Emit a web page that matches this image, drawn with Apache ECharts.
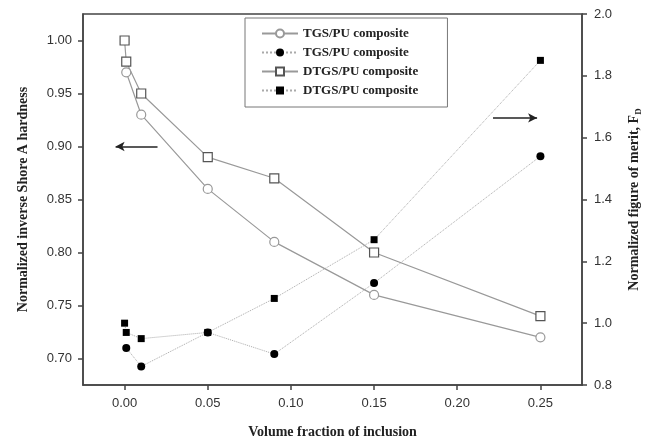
<!DOCTYPE html>
<html>
<head>
<meta charset="utf-8">
<script src="https://cdn.jsdelivr.net/npm/echarts@6/dist/echarts.min.js"></script>
<style>
  html, body { margin: 0; padding: 0; background: #fff; }
  #chart { width: 651px; height: 441px; }
</style>
</head>
<body>
<div id="chart"></div>
<script>
// volume fractions and tick values
var xTicks = [0, 0.05, 0.10, 0.15, 0.20, 0.25];
var leftTicks = [0.70, 0.75, 0.80, 0.85, 0.90, 0.95, 1.00];

var tgsX = [0.001, 0.01, 0.05, 0.09, 0.15, 0.25];
var tgsHardness = [0.97, 0.93, 0.86, 0.81, 0.76, 0.72];
var tgsMerit = [0.92, 0.86, 0.97, 0.90, 1.13, 1.54];

var dtgsX = [0, 0.001, 0.01, 0.05, 0.09, 0.15, 0.25];
var dtgsHardness = [1.00, 0.98, 0.95, 0.89, 0.87, 0.80, 0.74];
var dtgsMerit = [1.00, 0.97, 0.95, 0.97, 1.08, 1.27, 1.85];

function pairs(xs, ys) {
  return xs.map(function (x, i) { return [x, ys[i]]; });
}

var serif = 'Liberation Serif';
var sans = 'Liberation Sans';
var axisColor = '#444';

var chart = echarts.init(document.getElementById('chart'));
chart.setOption({
  backgroundColor: '#fff',
  animation: false,
  grid: {
    left: 83, right: 69, top: 14, bottom: 56,
    containLabel: false,
    outerBoundsMode: 'none',
    show: true, borderColor: axisColor, borderWidth: 1.5
  },
  legend: {
    orient: 'vertical',
    left: 245, top: 18,
    padding: [9, 26, 10, 16],
    itemGap: 6,
    itemWidth: 36,
    itemHeight: 10,
    borderColor: '#777',
    borderWidth: 1,
    textStyle: { fontFamily: serif, fontWeight: 'bold', fontSize: 13, color: '#222' },
    data: ['TGS/PU composite', 'TGS/PU composite ', 'DTGS/PU composite', 'DTGS/PU composite ']
  },
  xAxis: {
    type: 'value',
    min: -0.025, max: 0.275,
    name: 'Volume fraction of inclusion',
    nameLocation: 'middle',
    nameGap: 40,
    nameTextStyle: { fontFamily: serif, fontWeight: 'bold', fontSize: 14, color: '#222' },
    axisLine: { show: true, onZero: false, lineStyle: { color: axisColor, width: 1.5 } },
    axisTick: { show: true, length: 5, customValues: xTicks, lineStyle: { color: axisColor, width: 1.5 } },
    axisLabel: {
      customValues: xTicks, margin: 12,
      fontFamily: sans, fontSize: 13, color: '#333',
      formatter: function (v) { return v.toFixed(2); }
    },
    splitLine: { show: false }
  },
  yAxis: [{
    type: 'value',
    min: 0.675, max: 1.025,
    name: 'Normalized inverse Shore A hardness',
    nameLocation: 'middle',
    nameGap: 53,
    nameTextStyle: { fontFamily: serif, fontWeight: 'bold', fontSize: 14, color: '#222' },
    axisLine: { show: true, onZero: false, lineStyle: { color: axisColor, width: 1.5 } },
    axisTick: { show: true, length: 5, customValues: leftTicks, lineStyle: { color: axisColor, width: 1.5 } },
    axisLabel: {
      customValues: leftTicks, margin: 11,
      fontFamily: sans, fontSize: 13, color: '#333',
      formatter: function (v) { return v.toFixed(2); }
    },
    splitLine: { show: false }
  }, {
    type: 'value',
    position: 'right',
    min: 0.8, max: 2.0, interval: 0.2,
    name: '{n|Normalized figure of merit, F}{s|D}',
    nameLocation: 'middle',
    nameGap: 44,
    nameRotate: 90,
    nameTextStyle: {
      rich: {
        n: { fontFamily: serif, fontWeight: 'bold', fontSize: 14, color: '#222' },
        s: { fontFamily: serif, fontWeight: 'bold', fontSize: 9, color: '#222', verticalAlign: 'bottom', padding: [8, 0, 0, 0] }
      }
    },
    axisLine: { show: true, onZero: false, lineStyle: { color: axisColor, width: 1.5 } },
    axisTick: { show: true, length: 5, lineStyle: { color: axisColor, width: 1.5 } },
    axisLabel: {
      margin: 12, fontFamily: sans, fontSize: 13, color: '#333',
      formatter: function (v) { return v.toFixed(1); }
    },
    splitLine: { show: false }
  }],
  series: [{
    name: 'TGS/PU composite',
    type: 'line',
    data: pairs(tgsX, tgsHardness),
    symbol: 'circle', symbolSize: 9,
    lineStyle: { color: '#999', width: 1.2 },
    itemStyle: { color: '#fff', borderColor: '#999', borderWidth: 1.2 },
    markLine: {
      silent: true,
      symbol: ['none', 'arrow'], symbolSize: [7, 9],
      label: { show: false },
      lineStyle: { color: '#222', width: 1.5, type: 'solid' },
      data: [[{ coord: [0.0198, 0.90] }, { coord: [-0.0054, 0.90] }]]
    }
  }, {
    name: 'TGS/PU composite ',
    type: 'line',
    yAxisIndex: 1,
    data: pairs(tgsX, tgsMerit),
    symbol: 'circle', symbolSize: 8,
    lineStyle: { color: '#aaa', width: 1, type: 'dotted' },
    itemStyle: { color: '#000' },
    markLine: {
      silent: true,
      symbol: ['none', 'arrow'], symbolSize: [7, 9],
      label: { show: false },
      lineStyle: { color: '#222', width: 1.5, type: 'solid' },
      data: [[{ coord: [0.2215, 1.664] }, { coord: [0.248, 1.664] }]]
    }
  }, {
    name: 'DTGS/PU composite',
    type: 'line',
    data: pairs(dtgsX, dtgsHardness),
    symbol: 'rect', symbolSize: 9,
    lineStyle: { color: '#999', width: 1.2 },
    itemStyle: { color: '#fff', borderColor: '#555', borderWidth: 1.2 },
    z: 3
  }, {
    name: 'DTGS/PU composite ',
    type: 'line',
    yAxisIndex: 1,
    data: pairs(dtgsX, dtgsMerit),
    symbol: 'rect', symbolSize: 7,
    lineStyle: { color: '#aaa', width: 1, type: 'dotted' },
    itemStyle: { color: '#000' }
  }]
});
</script>
</body>
</html>
